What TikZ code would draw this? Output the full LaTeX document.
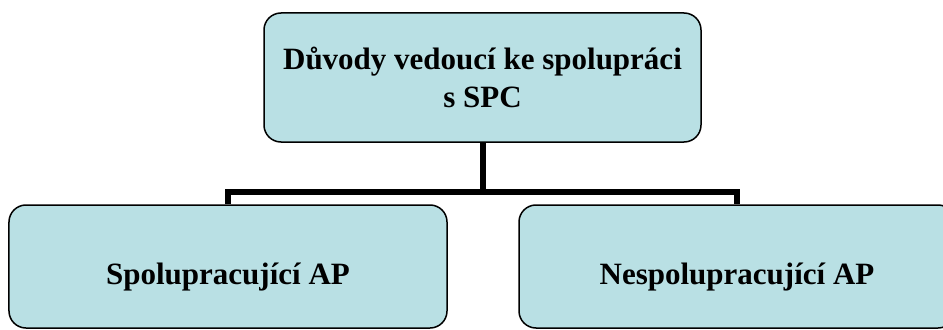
\documentclass[tikz,border=0pt]{standalone}
\usepackage{fontspec}
\setmainfont{Liberation Serif}
\definecolor{boxfill}{RGB}{185,224,228}
\begin{document}
\begin{tikzpicture}[x=1bp,y=1bp,
		box/.style={draw=black, line width=1.5bp, fill=boxfill, rounded corners=17bp,
			align=center, font=\fontsize{31bp}{38bp}\selectfont\bfseries, inner sep=0pt},
		lowtext/.style={text height=40bp, text depth=4bp},
		link/.style={line width=6bp}]
		\clip (0,0) rectangle (943,329);
		
		\node[box, minimum width=437bp, minimum height=129bp] (duvody) at (482.5,251.5)
			{Důvody vedoucí ke spolupráci\\ s SPC};
		\node[box, lowtext, minimum width=438bp, minimum height=123bp] (spol) at (228,62.5)
			{Spolupracující AP};
		\node[box, lowtext, minimum width=436bp, minimum height=123bp] (nespol) at (737,62.5)
			{Nespolupracující AP};
		
		\coordinate (mid) at (482.5,137);
		\draw[link] (duvody.south) -- (mid);
		\draw[link] (spol.north) |- (mid) -| (nespol.north);
		\end{tikzpicture}
\end{document}
